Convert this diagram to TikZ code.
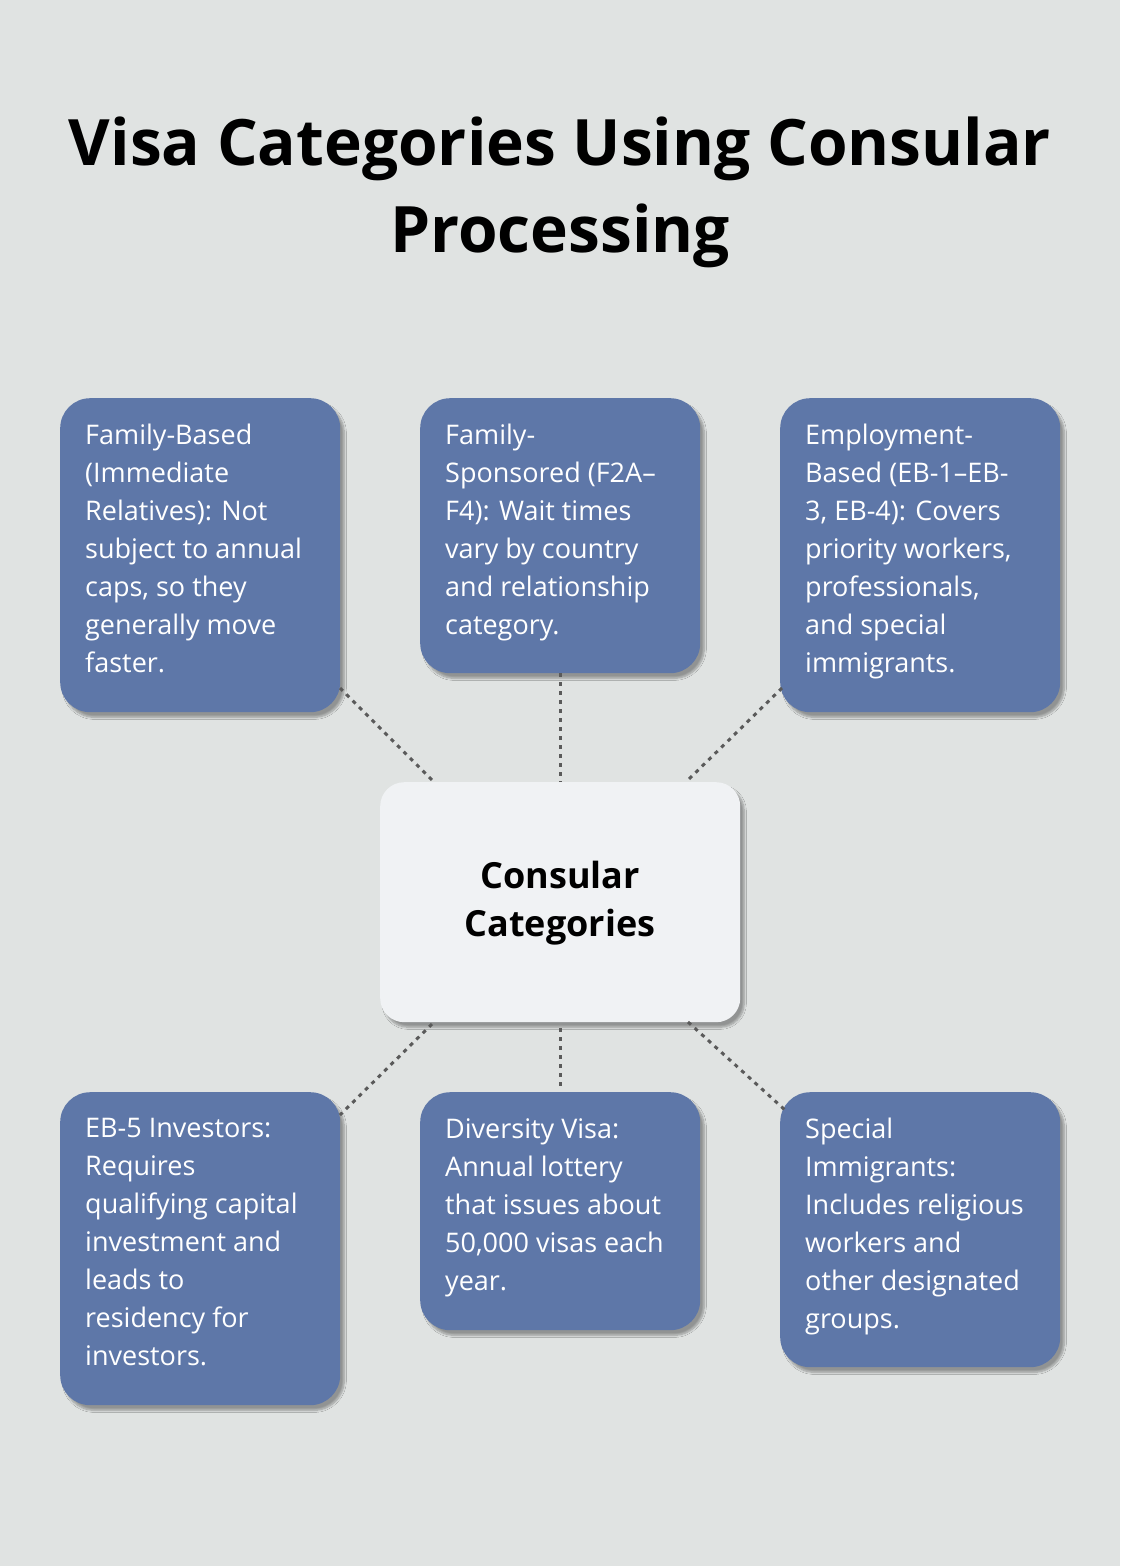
\documentclass[tikz,border=0pt]{standalone}
\usepackage{fontspec}
\setmainfont{Open Sans}
\usetikzlibrary{shadows.blur}
\definecolor{bg}{HTML}{E0E3E2}
\definecolor{boxc}{HTML}{5E77A8}
\definecolor{ctrc}{HTML}{F0F2F4}
\definecolor{dotc}{HTML}{5A5A5A}
\begin{document}
\begin{tikzpicture}[x=1pt,y=-1pt,
  box/.style={rectangle,rounded corners=30pt,fill=boxc,draw=none,anchor=north west,inner sep=0pt,
    blur shadow={shadow xshift=4pt,shadow yshift=-5pt,shadow blur steps=8,shadow opacity=35}},
  txt/.style={anchor=north west,text=white,align=left,inner sep=0pt,font=\fontsize{27}{38}\selectfont},
  link/.style={draw=dotc,line width=3pt,dash pattern=on 4pt off 5pt}]
\fill[bg] (0,0) rectangle (1120,1566);
\useasboundingbox (0,0) rectangle (1120,1566);
\node[font=\bfseries\fontsize{64}{87}\selectfont,align=center] (title) at (560,192) {Visa Categories Using Consular\\Processing};
\node[box,minimum width=280pt,minimum height=314pt] (b1) at (60,398) {};
\node[box,minimum width=280pt,minimum height=275pt] (b2) at (420,398) {};
\node[box,minimum width=280pt,minimum height=314pt] (b3) at (780,398) {};
\node[box,minimum width=280pt,minimum height=313pt] (b4) at (60,1092) {};
\node[box,minimum width=280pt,minimum height=238pt] (b5) at (420,1092) {};
\node[box,minimum width=280pt,minimum height=275pt] (b6) at (780,1092) {};
\node[box,fill=ctrc,minimum width=360pt,minimum height=240pt,rounded corners=24pt] (ctr) at (380,782) {};
\node[font=\bfseries\fontsize{36}{48}\selectfont,align=center] (ct) at (560,903) {Consular\\Categories};
\node[txt] (t1) at (85,424) {Family-Based\\(Immediate\\Relatives): Not\\subject to annual\\caps, so they\\generally move\\faster.};
\node[txt] (t2) at (445,424) {Family-\\Sponsored (F2A–\\F4): Wait times\\vary by country\\and relationship\\category.};
\node[txt] (t3) at (805,424) {Employment-\\Based (EB-1–EB-\\3, EB-4): Covers\\priority workers,\\professionals,\\and special\\immigrants.};
\node[txt] (t4) at (85,1118) {EB-5 Investors:\\Requires\\qualifying capital\\investment and\\leads to\\residency for\\investors.};
\node[txt] (t5) at (445,1118) {Diversity Visa:\\Annual lottery\\that issues about\\50,000 visas each\\year.};
\node[txt] (t6) at (805,1118) {Special\\Immigrants:\\Includes religious\\workers and\\other designated\\groups.};
\coordinate (p1) at (340,688); \coordinate (q1) at (432,780);
\coordinate (q3) at (688,780); \coordinate (p3) at (782,688);
\coordinate (q4) at (432,1024); \coordinate (p4) at (340,1115);
\coordinate (q6) at (688,1022); \coordinate (p6) at (785,1110);
\draw[link] (p1) -- (q1);
\draw[link] (b2.south) -- (ctr.north);
\draw[link] (p3) -- (q3);
\draw[link] (q4) -- (p4);
\draw[link] ([yshift=-6pt]ctr.south) -- ([yshift=2pt]b5.north);
\draw[link] (q6) -- (p6);
\end{tikzpicture}
\end{document}
